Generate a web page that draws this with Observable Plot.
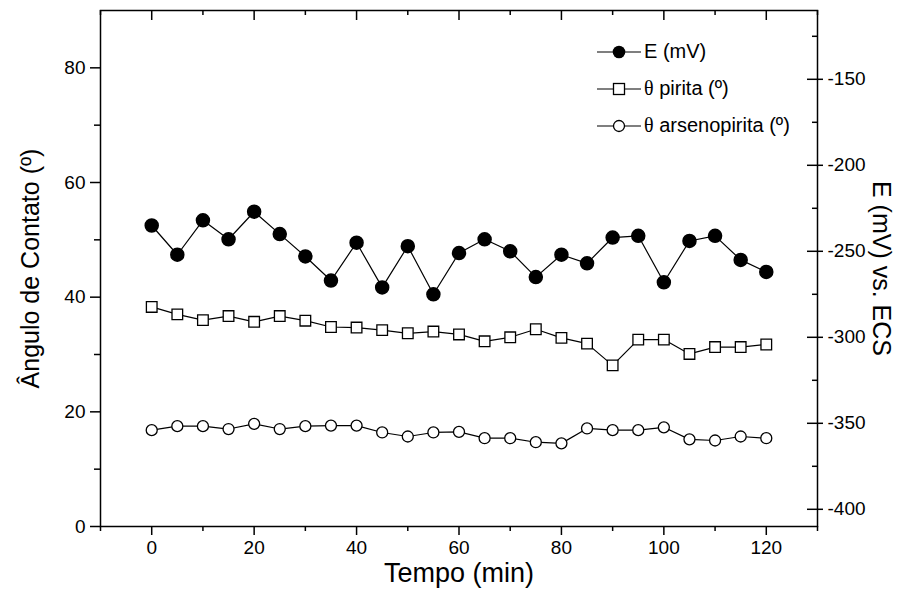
<!DOCTYPE html>
<html><head><meta charset="utf-8">
<script src="https://cdn.jsdelivr.net/npm/d3@7"></script>
<script src="https://cdn.jsdelivr.net/npm/@observablehq/plot@0.6"></script>
<style>
body{margin:0;background:#fff;}
#wrap{position:relative;width:907px;height:600px;font-family:"Liberation Sans",Arial,sans-serif;color:#000;}
#legend{position:absolute;left:597px;top:33px;}
.row{display:flex;align-items:center;height:37px;font-size:20px;white-space:nowrap;}
.row svg{margin-right:3px;}
.theta{font-family:"Liberation Serif","Times New Roman",serif;}
#wrap svg text{fill:#000;}
#wrap svg g[aria-label$="tick label"], #wrap svg g[aria-label$="tick label"] text{font-size:19px !important;}
</style></head><body><div id="wrap"><div id="legend"></div></div>
<script>
const time = [0,5,10,15,20,25,30,35,40,45,50,55,60,65,70,75,80,85,90,95,100,105,110,115,120];
const E_mV = [-235,-252,-232,-243,-227,-240,-253,-267,-245,-271,-247,-275,-251,-243,-250,-265,-252,-257,-242,-241,-268,-244,-241,-255,-262];
const pirita = [38.3,37.0,36.0,36.7,35.7,36.7,35.9,34.8,34.7,34.25,33.7,34.0,33.5,32.3,33.0,34.4,32.9,31.9,28.1,32.6,32.6,30.1,31.3,31.3,31.75];
const arseno = [16.8,17.5,17.5,17.0,17.9,17.0,17.5,17.6,17.6,16.4,15.7,16.4,16.5,15.4,15.4,14.7,14.5,17.1,16.8,16.8,17.3,15.2,15.0,15.7,15.4];

const xMajor = [0,20,40,60,80,100,120];
const xMinor = [-10,10,30,50,70,90,110,130];
const leftMajor = [0,20,40,60,80];
const leftMinor = [10,30,50,70];
const rightMajor = [-400,-350,-300,-250,-200,-150];
const rightMinor = [-375,-325,-275,-225,-175,-125];
const xDomain = [-10,130];
const leftDomain = [0,90];
const rightDomain = [-410,-110];

const xTitle = "Tempo (min)";
const leftTitle = "Ângulo de Contato (º)";
const rightTitle = "E (mV) vs. ECS";
const legendItems = [
  {theta:"", label:"E (mV)", symbol:"filled"},
  {theta:"θ", label:" pirita (º)", symbol:"square"},
  {theta:"θ", label:" arsenopirita (º)", symbol:"open"}
];

const toLeft = v => (v - rightDomain[0]) * (leftDomain[1]-leftDomain[0]) / (rightDomain[1]-rightDomain[0]) + leftDomain[0];
const fromLeft = d => (d - leftDomain[0]) * (rightDomain[1]-rightDomain[0]) / (leftDomain[1]-leftDomain[0]) + rightDomain[0];

const rows = time.map((t,i) => ({t, E: toLeft(E_mV[i]), pirita: pirita[i], arseno: arseno[i]}));

const chart = Plot.plot({
  width: 907, height: 600,
  marginLeft: 100, marginRight: 90, marginTop: 10, marginBottom: 74,
  x: {domain: xDomain},
  y: {domain: leftDomain},
  style: {fontFamily: '"Liberation Sans", Arial, sans-serif', fontSize: "19px", background: "white", color: "black"},
  marks: [
    Plot.axisX(xMajor, {anchor:"bottom", tickSize:9, tickPadding:5, fontSize:19, strokeWidth:1.5, label:null}),
    Plot.axisX(xMinor, {anchor:"bottom", tickSize:5, tickFormat:()=>"", strokeWidth:1.5, label:null}),
    Plot.tickX(xMajor, {x:d=>d, insetBottom:506, stroke:"black", strokeWidth:1.5}),
    Plot.tickX(xMinor, {x:d=>d, insetBottom:511, stroke:"black", strokeWidth:1.5}),
    Plot.axisY(leftMajor, {anchor:"left", tickSize:10, tickPadding:5, fontSize:19, strokeWidth:1.5, label:null}),
    Plot.axisY(leftMinor, {anchor:"left", tickSize:6, tickFormat:()=>"", strokeWidth:1.5, label:null}),
    Plot.axisY(rightMajor.map(toLeft), {anchor:"right", tickSize:5, tickPadding:5, fontSize:19, strokeWidth:1.5, tickFormat:d=>String(Math.round(fromLeft(d))), label:null}),
    Plot.tickY(rightMajor.map(toLeft), {y:d=>d, insetLeft:707, stroke:"black", strokeWidth:1.5}),
    Plot.tickY(rightMinor.map(toLeft), {y:d=>d, insetLeft:712, stroke:"black", strokeWidth:1.5}),
    Plot.frame({stroke:"black", strokeWidth:1.5}),
    Plot.line(rows, {x:"t", y:"E", stroke:"black", strokeWidth:1.2}),
    Plot.line(rows, {x:"t", y:"pirita", stroke:"black", strokeWidth:1.2}),
    Plot.line(rows, {x:"t", y:"arseno", stroke:"black", strokeWidth:1.2}),
    Plot.dot(rows, {x:"t", y:"E", r:6.5, fill:"black", stroke:"black", symbol:"circle"}),
    Plot.dot(rows, {x:"t", y:"pirita", r:6.0, fill:"white", stroke:"black", strokeWidth:1.3, symbol:"square"}),
    Plot.dot(rows, {x:"t", y:"arseno", r:5.5, fill:"white", stroke:"black", strokeWidth:1.3, symbol:"circle"}),
    Plot.text([xTitle], {text:d=>d, frameAnchor:"bottom", textAnchor:"middle", dy:55, fontSize:27}),
    Plot.text([leftTitle], {text:d=>d, frameAnchor:"left", textAnchor:"middle", dx:-70, rotate:-90, fontSize:25}),
    Plot.text([rightTitle], {text:d=>d, frameAnchor:"right", textAnchor:"middle", dx:63, rotate:90, fontSize:25})
  ]
});
const wrap = document.getElementById("wrap");
wrap.insertBefore(chart, wrap.firstChild);

const legend = document.getElementById("legend");
for (const it of legendItems) {
  let marker;
  if (it.symbol === "filled") marker = '<circle cx="22" cy="10" r="6.3" fill="black"/>';
  else if (it.symbol === "square") marker = '<rect x="16.5" y="4.5" width="11" height="11" fill="white" stroke="black" stroke-width="1.3"/>';
  else marker = '<circle cx="22" cy="10" r="5.5" fill="white" stroke="black" stroke-width="1.3"/>';
  const row = document.createElement("div");
  row.className = "row";
  row.innerHTML = '<svg width="44" height="20"><line x1="0" x2="44" y1="10" y2="10" stroke="black" stroke-width="1.2"/>' + marker + '</svg>' +
    (it.theta ? '<span class="theta">' + it.theta + '</span>' : '') + '<span>' + it.label.replace(/^ /,'&nbsp;') + '</span>';
  legend.appendChild(row);
}
</script>
</body></html>
